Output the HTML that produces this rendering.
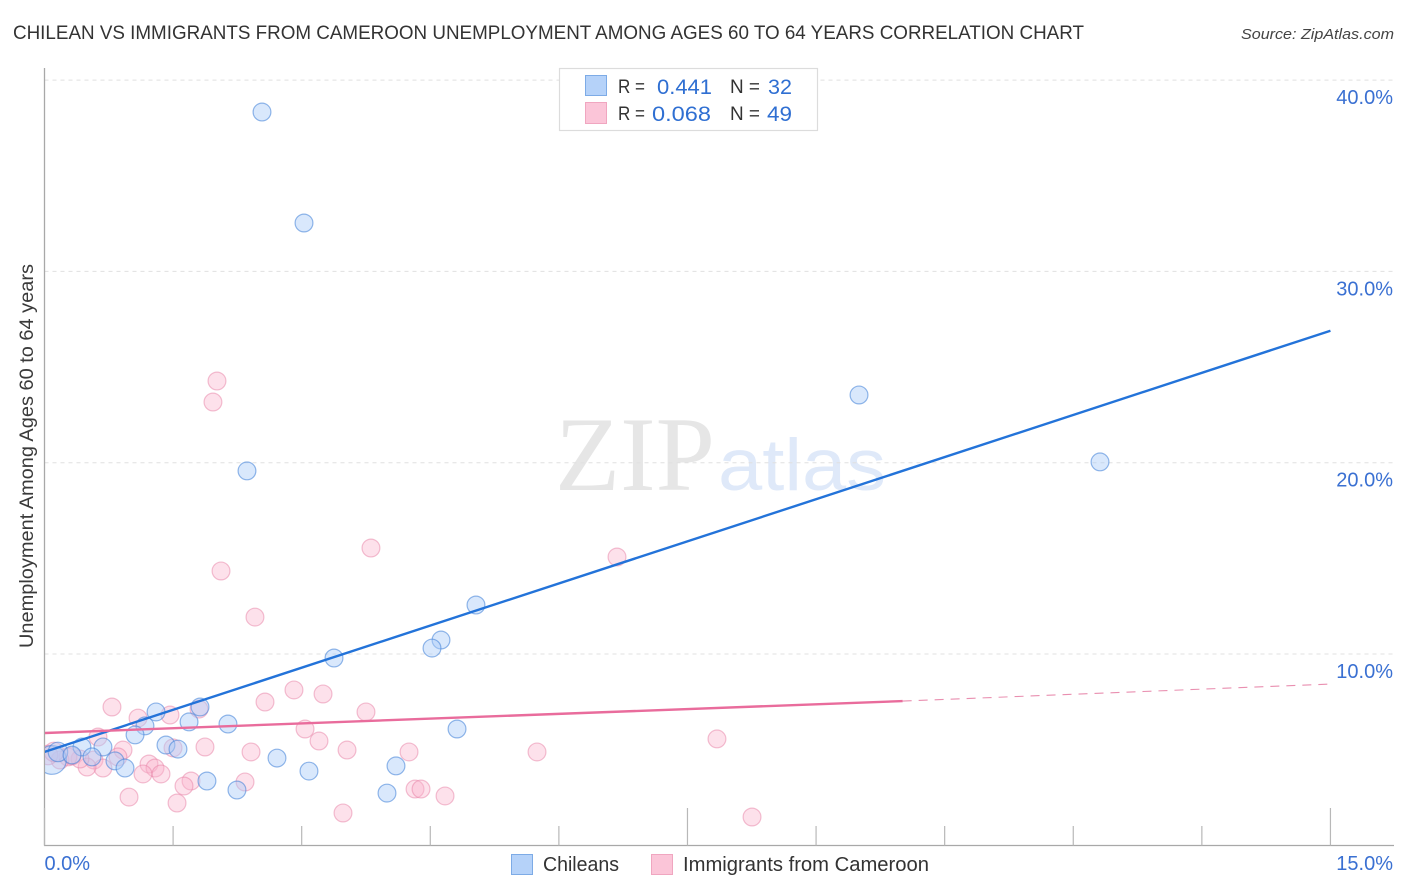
<!DOCTYPE html>
<html lang="en">
<head>
<meta charset="utf-8">
<title>Chilean vs Immigrants from Cameroon Unemployment Correlation Chart</title>
<style>
html,body{margin:0;padding:0;background:#fff;}
svg{display:block;font-family:"Liberation Sans",sans-serif;}
</style>
</head>
<body>
<svg id="chart" width="1406" height="892" viewBox="0 0 1406 892" xmlns="http://www.w3.org/2000/svg">
  <defs>
    <clipPath id="plotClip"><rect x="45" y="60" width="1350" height="785"/></clipPath>
  </defs>
  <text x="13" y="39" font-size="19.5" fill="#333" textLength="1071" lengthAdjust="spacingAndGlyphs">CHILEAN VS IMMIGRANTS FROM CAMEROON UNEMPLOYMENT AMONG AGES 60 TO 64 YEARS CORRELATION CHART</text>
  <text x="1241" y="39" font-size="15" font-style="italic" fill="#444" textLength="153" lengthAdjust="spacingAndGlyphs">Source: ZipAtlas.com</text>

  <g>
    <text x="555" y="490" font-family="'Liberation Serif',serif" font-size="106" fill="#e6e6e6" textLength="160" lengthAdjust="spacingAndGlyphs">ZIP</text>
    <text x="718" y="490" font-size="73" fill="#dfe9f9" textLength="168" lengthAdjust="spacingAndGlyphs">atlas</text>
  </g>

  <g id="grid"></g>
  <g id="axes"></g>
  <g id="pointsPink" clip-path="url(#plotClip)"></g>
  <g id="pointsBlue" clip-path="url(#plotClip)"></g>
  <g id="trends" clip-path="url(#plotClip)"></g>
  <g id="tickLabels"></g>

  <text transform="translate(33,648) rotate(-90)" font-size="19" fill="#3a3a3a" textLength="384" lengthAdjust="spacingAndGlyphs">Unemployment Among Ages 60 to 64 years</text>

  <g>
    <rect x="559.5" y="68.5" width="258" height="62" fill="#fff" stroke="#dcdcdc" stroke-width="1.2"/>
    <rect x="585.5" y="75.5" width="21" height="20" fill="#b5d2f9" stroke="#7dabe6" stroke-width="1"/>
    <rect x="585.5" y="102.5" width="21" height="21" fill="#fbc5d8" stroke="#f0a6c0" stroke-width="1"/>
    <text x="618" y="93" font-size="19" fill="#333" textLength="27" lengthAdjust="spacingAndGlyphs">R =</text>
    <text x="657" y="94" font-size="21" fill="#2f6fd2" textLength="55" lengthAdjust="spacingAndGlyphs">0.441</text>
    <text x="730" y="93" font-size="19" fill="#333" textLength="30" lengthAdjust="spacingAndGlyphs">N =</text>
    <text x="768" y="94" font-size="21" fill="#2f6fd2" textLength="24" lengthAdjust="spacingAndGlyphs">32</text>
    <text x="618" y="120" font-size="19" fill="#333" textLength="27" lengthAdjust="spacingAndGlyphs">R =</text>
    <text x="652" y="121" font-size="21" fill="#2f6fd2" textLength="59" lengthAdjust="spacingAndGlyphs">0.068</text>
    <text x="730" y="120" font-size="19" fill="#333" textLength="30" lengthAdjust="spacingAndGlyphs">N =</text>
    <text x="767" y="121" font-size="21" fill="#2f6fd2" textLength="25" lengthAdjust="spacingAndGlyphs">49</text>
  </g>

  <g>
    <rect x="511.5" y="854.5" width="21" height="20" fill="#b5d2f9" stroke="#7dabe6" stroke-width="1"/>
    <text x="543" y="871" font-size="20" fill="#333" textLength="76" lengthAdjust="spacingAndGlyphs">Chileans</text>
    <rect x="651.5" y="854.5" width="21" height="20" fill="#fbc5d8" stroke="#f0a6c0" stroke-width="1"/>
    <text x="683" y="871" font-size="20" fill="#333" textLength="246" lengthAdjust="spacingAndGlyphs">Immigrants from Cameroon</text>
  </g>
</svg>

<script>
var yTickValues = [10, 20, 30, 40];
var yTickLabels = ["10.0%", "20.0%", "30.0%", "40.0%"];
var xTickValues = [0, 1.5, 3, 4.5, 6, 7.5, 9, 10.5, 12, 13.5, 15];
var xMajorTicks = [0, 7.5, 15];
var xEndValues = [0, 15];
var xEndLabels = ["0.0%", "15.0%"];

var chileansX = [2.537, 3.027, 9.501, 12.312, 2.362, 5.033, 4.625, 4.520, 3.377, 1.814, 1.301, 2.140, 1.172, 1.686, 1.056, 4.812, 1.417, 1.557, 0.682, 0.437, 0.554, 0.822, 0.939, 2.712, 3.085, 4.100, 1.895, 2.245, 3.995, 0.087, 0.157, 0.321];
var chileansY = [38.33, 32.53, 23.54, 20.04, 19.57, 12.56, 10.73, 10.31, 9.79, 7.23, 6.97, 6.34, 6.24, 6.45, 5.77, 6.08, 5.24, 5.03, 5.14, 5.14, 4.62, 4.41, 4.04, 4.56, 3.88, 4.15, 3.36, 2.89, 2.73, 4.46, 4.88, 4.72];
var chileansWeight = [1, 1, 1, 1, 1, 1, 1, 1, 1, 1, 1, 1, 1, 1, 1, 1, 1, 1, 1, 1, 1, 1, 1, 1, 1, 1, 1, 1, 1, 2.6, 1.2, 1];

var cameroonX = [2.012, 1.965, 3.808, 6.678, 2.059, 2.455, 0.787, 2.572, 2.910, 3.249, 3.750, 1.802, 1.464, 1.091, 3.039, 0.624, 3.202, 3.529, 4.252, 5.745, 7.844, 1.872, 2.409, 0.916, 1.499, 0.857, 0.577, 1.219, 1.289, 1.149, 1.359, 0.682, 0.496, 0.414, 0.274, 0.181, 0.041, 1.709, 1.627, 2.339, 0.986, 1.546, 4.322, 4.392, 4.672, 3.482, 8.253, 0.321, 0.111];
var cameroonY = [24.27, 23.17, 15.54, 15.07, 14.34, 11.93, 7.23, 7.49, 8.12, 7.91, 6.97, 7.12, 6.81, 6.65, 6.08, 5.66, 5.45, 4.98, 4.88, 4.88, 5.56, 5.14, 4.88, 4.98, 5.09, 4.62, 4.46, 4.25, 4.04, 3.73, 3.73, 4.04, 4.09, 4.51, 4.62, 4.46, 4.72, 3.36, 3.10, 3.31, 2.52, 2.21, 2.94, 2.94, 2.58, 1.69, 1.48, 4.67, 4.88];
var cameroonWeight = [1, 1, 1, 1, 1, 1, 1, 1, 1, 1, 1, 1, 1, 1, 1, 1, 1, 1, 1, 1, 1, 1, 1, 1, 1, 1, 1, 1, 1, 1, 1, 1, 1, 1, 1, 1, 1.2, 1, 1, 1, 1, 1, 1, 1, 1, 1, 1, 1, 1.2];

var chileansTrendX = [0, 15];
var chileansTrendY = [4.88, 26.9];
var cameroonTrendX = [0, 10.01];
var cameroonTrendY = [5.87, 7.54];
var cameroonDashX = [10.01, 15];
var cameroonDashY = [7.54, 8.43];

var NS = "http://www.w3.org/2000/svg";
function xScale(v) { return 44.5 + v * 85.73; }
function yScale(v) { return 845.3 - v * 19.13; }
function radius(w) { return 8.9 * Math.sqrt(w); }
function make(tag, attrs, parent) {
  var el = document.createElementNS(NS, tag);
  for (var k in attrs) el.setAttribute(k, attrs[k]);
  document.getElementById(parent).appendChild(el);
  return el;
}

yTickValues.forEach(function (v) {
  var el = make("line", { x1: 44.5, x2: 1394, y1: yScale(v), y2: yScale(v), stroke: "#e0e0e0", "stroke-width": 1, "stroke-dasharray": "4 4" }, "grid");
  
  
});

var yAxis = make("line", { x1: 44.5, x2: 44.5, y1: 68, y2: 845.5, stroke: "#a8a8a8", "stroke-width": 1.3 }, "axes");


var xAxis = make("line", { x1: 44, x2: 1394, y1: 845.5, y2: 845.5, stroke: "#a8a8a8", "stroke-width": 1.3 }, "axes");



xTickValues.forEach(function (v) {
  var top = xMajorTicks.indexOf(v) >= 0 ? 808 : 826;
  var el = make("line", { x1: xScale(v), x2: xScale(v), y1: top, y2: 845.5, stroke: "#b8b8b8", "stroke-width": 1.2 }, "axes");
  
  
});

cameroonX.forEach(function (v, i) {
  var el = make("circle", { cx: xScale(v), cy: yScale(cameroonY[i]), r: radius(cameroonWeight[i]), fill: "rgba(249,180,204,0.4)", stroke: "rgba(232,130,165,0.5)", "stroke-width": 1.2 }, "pointsPink");
  
  
});

chileansX.forEach(function (v, i) {
  var el = make("circle", { cx: xScale(v), cy: yScale(chileansY[i]), r: radius(chileansWeight[i]), fill: "rgba(170,205,248,0.45)", stroke: "rgba(60,125,215,0.55)", "stroke-width": 1.2 }, "pointsBlue");
  
  
});

var blueTrend = make("line", { x1: xScale(chileansTrendX[0]), y1: yScale(chileansTrendY[0]), x2: xScale(chileansTrendX[1]), y2: yScale(chileansTrendY[1]), stroke: "#2373d9", "stroke-width": 2.4 }, "trends");


var pinkTrend = make("line", { x1: xScale(cameroonTrendX[0]), y1: yScale(cameroonTrendY[0]), x2: xScale(cameroonTrendX[1]), y2: yScale(cameroonTrendY[1]), stroke: "#e96c9c", "stroke-width": 2.4 }, "trends");


var pinkDash = make("line", { x1: xScale(cameroonDashX[0]), y1: yScale(cameroonDashY[0]), x2: xScale(cameroonDashX[1]), y2: yScale(cameroonDashY[1]), stroke: "#e98fb0", "stroke-width": 1.1, "stroke-dasharray": "9 7" }, "trends");



yTickValues.forEach(function (v, i) {
  var el = make("text", { x: 1393, y: yScale(v) + 24, "text-anchor": "end", "font-size": 20, fill: "#3a70d2" }, "tickLabels");
  
  
  el.textContent = yTickLabels[i];
});

xEndValues.forEach(function (v, i) {
  var el = make("text", { x: i === 0 ? xScale(v) : 1393, y: 870, "text-anchor": i === 0 ? "start" : "end", "font-size": 20, fill: "#3a70d2" }, "tickLabels");
  
  
  el.textContent = xEndLabels[i];
});
</script>
</body>
</html>
